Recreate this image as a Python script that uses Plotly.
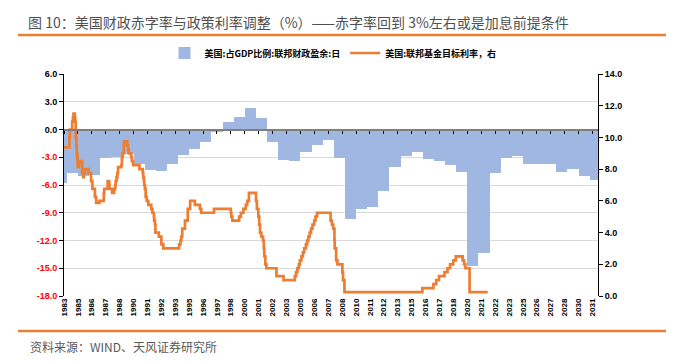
import plotly.graph_objects as go

# ---------------- data ----------------
fiscal_years = list(range(1983, 2032))
fiscal_balance = [
    -5.8, -4.7, -5.0, -4.9, -3.1, -3.0, -2.7, -3.7, -4.4, -4.5,   # 1983-1992
    -3.7, -2.8, -2.1, -1.3, -0.3, 0.8, 1.3, 2.3, 1.2, -1.4,       # 1993-2002
    -3.3, -3.4, -2.4, -1.7, -1.1, -3.1, -9.7, -8.6, -8.4, -6.7,   # 2003-2012
    -4.0, -2.9, -2.4, -3.2, -3.4, -3.8, -4.6, -14.8, -13.3, -4.7, # 2013-2022
    -3.1, -2.9, -3.7, -3.7, -3.7, -4.6, -4.3, -5.0, -5.5,         # 2023-2031
]

fed_dates = [
    "1983-10-01", "1984-03-27", "1984-04-09", "1984-06-25", "1984-07-19", "1984-08-09", "1984-09-20",
    "1984-10-02", "1984-10-18", "1984-11-08", "1984-11-23", "1984-12-07", "1984-12-18", "1984-12-24",
    "1985-01-30", "1985-02-13", "1985-04-02", "1985-05-20", "1985-06-25", "1985-07-11", "1985-08-21", "1985-12-18",
    "1986-03-07", "1986-04-21", "1986-07-11", "1986-08-21", "1986-12-04",
    "1987-04-30", "1987-05-14", "1987-09-04", "1987-10-22", "1987-11-04",
    "1988-01-28", "1988-03-30", "1988-05-09", "1988-05-25", "1988-06-22", "1988-07-19", "1988-08-09", "1988-11-22", "1988-12-15",
    "1989-01-05", "1989-02-14", "1989-02-24", "1989-06-06", "1989-07-07", "1989-07-27", "1989-10-18", "1989-11-06", "1989-12-20",
    "1990-07-13", "1990-10-29", "1990-11-14", "1990-12-07", "1990-12-19",
    "1991-01-09", "1991-02-01", "1991-03-08", "1991-04-30", "1991-08-06", "1991-09-13", "1991-10-31", "1991-11-06", "1991-12-06", "1991-12-20",
    "1992-04-09", "1992-07-02", "1992-09-04",
    "1994-02-04", "1994-03-22", "1994-04-18", "1994-05-17", "1994-08-16", "1994-11-15",
    "1995-02-01", "1995-07-06", "1995-12-19", "1996-01-31", "1997-03-25",
    "1998-09-29", "1998-10-15", "1998-11-17", "1999-06-30", "1999-08-24", "1999-11-16",
    "2000-02-02", "2000-03-21", "2000-05-16",
    "2001-01-03", "2001-01-31", "2001-03-20", "2001-04-18", "2001-05-15", "2001-06-27", "2001-08-21", "2001-09-17", "2001-10-02", "2001-11-06", "2001-12-11",
    "2002-11-06", "2003-06-25",
    "2004-06-30", "2004-08-10", "2004-09-21", "2004-11-10", "2004-12-14",
    "2005-02-02", "2005-03-22", "2005-05-03", "2005-06-30", "2005-08-09", "2005-09-20", "2005-11-01", "2005-12-13",
    "2006-01-31", "2006-03-28", "2006-05-10", "2006-06-29",
    "2007-09-18", "2007-10-31", "2007-12-11",
    "2008-01-22", "2008-01-30", "2008-03-18", "2008-04-30", "2008-10-08", "2008-10-29", "2008-12-16",
    "2015-12-17", "2016-12-15", "2017-03-16", "2017-06-15", "2017-12-14", "2018-03-22", "2018-06-14", "2018-09-27", "2018-12-20",
    "2019-08-01", "2019-09-19", "2019-10-31", "2020-03-16", "2021-11-01",
]
fed_rate = [
    9.375, 10.0, 10.5, 11.0, 11.25, 11.5, 11.25,
    11.0, 10.0, 9.5, 9.0, 8.75, 8.5, 8.125,
    8.25, 8.5, 8.5, 7.75, 7.5, 7.75, 8.0, 7.75,
    7.25, 6.75, 6.25, 5.875, 6.0,
    6.5, 6.75, 7.25, 7.0, 6.75,
    6.5, 6.75, 7.0, 7.25, 7.5, 7.75, 8.125, 8.25, 8.75,
    9.0, 9.5, 9.75, 9.5, 9.25, 9.0, 8.75, 8.5, 8.25,
    8.0, 7.75, 7.5, 7.25, 7.0,
    6.75, 6.25, 6.0, 5.75, 5.5, 5.25, 5.0, 4.75, 4.5, 4.0,
    3.75, 3.25, 3.0,
    3.25, 3.5, 3.75, 4.25, 4.75, 5.5,
    6.0, 5.75, 5.5, 5.25, 5.5,
    5.25, 5.0, 4.75, 5.0, 5.25, 5.5,
    5.75, 6.0, 6.5,
    6.0, 5.5, 5.0, 4.5, 4.0, 3.75, 3.5, 3.0, 2.5, 2.0, 1.75,
    1.25, 1.0,
    1.25, 1.5, 1.75, 2.0, 2.25,
    2.5, 2.75, 3.0, 3.25, 3.5, 3.75, 4.0, 4.25,
    4.5, 4.75, 5.0, 5.25,
    4.75, 4.5, 4.25,
    3.5, 3.0, 2.25, 2.0, 1.5, 1.0, 0.25,
    0.5, 0.75, 1.0, 1.25, 1.5, 1.75, 2.0, 2.25, 2.5,
    2.25, 2.0, 1.75, 0.25, 0.25,
]
assert len(fed_dates) == len(fed_rate)

left_ticks = [-18, -15, -12, -9, -6, -3, 0, 3, 6]
right_ticks = [0, 2, 4, 6, 8, 10, 12, 14]

series_names = ["美国:占GDP比例:联邦财政盈余:日", "美国:联邦基金目标利率，右"]
title_text = "图 10：美国财政赤字率与政策利率调整（%）——赤字率回到 3%左右或是加息前提条件"
source_text = "资料来源：WIND、天风证券研究所"

# ---------------- layout constants ----------------
W, H = 690, 362
L, R, T, B = 64, 598, 74, 296
x_start, x_end = "1983-10-01", "2031-10-01"
ORANGE = "#ED7D31"
BAR = "#A0B8E1"
FONT = "Liberation Sans, Arial, sans-serif"
CJK = "Noto Sans CJK SC, sans-serif"


def px_x(p):
    return (p - L) / (R - L)


def px_y(p):
    return (B - p) / (B - T)


bar_x = [f"{y}-07-02" for y in fiscal_years]
year_ms = 365 * 24 * 3600 * 1000

fig = go.Figure()
fig.add_trace(go.Bar(
    x=bar_x, y=fiscal_balance, width=[year_ms] * len(bar_x),
    marker=dict(color=BAR, line=dict(width=0)),
    name=series_names[0], xaxis="x", yaxis="y",
))
fig.add_trace(go.Scatter(
    x=fed_dates, y=fed_rate, mode="lines", line=dict(color=ORANGE, width=2.7, shape="hv"),
    name=series_names[1], xaxis="x2", yaxis="y2",
))

left_text = [
    (f"<span style='color:#FF0000'>{v:.1f}</span>" if v < 0 else f"{v:.1f}") for v in left_ticks
]

tickfont = dict(family=FONT, size=9, color="#000000", weight="bold")

fig.update_layout(
    width=W, height=H,
    margin=dict(l=L, r=W - R, t=T, b=H - B),
    paper_bgcolor="white", plot_bgcolor="white",
    bargap=0,
    showlegend=True,
    legend=dict(
        orientation="h", x=px_x(333), xanchor="center", y=px_y(53), yanchor="middle",
        font=dict(family=CJK, size=9, color="#000000", weight="bold"),
        itemwidth=30, tracegroupgap=0, bgcolor="rgba(0,0,0,0)",
    ),
    xaxis=dict(
        type="date", range=[x_start, x_end], tick0=x_start, dtick="M15", tickformat="%Y",
        tickangle=-90, ticks="", showgrid=False, showline=False, zeroline=False,
        tickfont=dict(family=FONT, size=8, color="#000000", weight="bold"),
    ),
    xaxis2=dict(
        type="date", range=[x_start, x_end], tick0=x_start, dtick="M15",
        overlaying="x", anchor="free", position=(0 - (-18)) / 24, side="bottom",
        showticklabels=False, ticks="outside", ticklen=3, tickwidth=1, tickcolor="#000000",
        showgrid=False, zeroline=False, showline=True, linecolor="#7F7F7F", linewidth=2,
    ),
    yaxis=dict(
        range=[-18, 6], tickvals=left_ticks, ticktext=left_text,
        showgrid=True, gridcolor="#D9D9D9", gridwidth=1, zeroline=False,
        showline=True, linecolor="#000000", linewidth=1,
        ticks="outside", ticklen=4, tickcolor="#000000", tickfont=tickfont,
    ),
    yaxis2=dict(
        range=[0, 14], tickvals=right_ticks, tickformat=".1f",
        overlaying="y", side="right", anchor="x2",
        showgrid=False, zeroline=False,
        showline=True, linecolor="#000000", linewidth=1,
        ticks="outside", ticklen=4, tickcolor="#000000", tickfont=tickfont,
    ),
    title=dict(
        text=title_text, xref="container", yref="container",
        x=28 / W, xanchor="left", y=1 - 23 / H, yanchor="middle",
        font=dict(family=CJK, size=14, color="#505050"),
    ),
)

# orange rules above and below the chart
for yy in (35, 331):
    fig.add_shape(type="line", xref="paper", yref="paper",
                  x0=px_x(18), x1=px_x(666), y0=px_y(yy), y1=px_y(yy),
                  line=dict(color=ORANGE, width=2.5))

fig.add_annotation(
    text=source_text, xref="paper", yref="paper", x=px_x(28), y=px_y(346),
    xanchor="left", yanchor="middle", showarrow=False,
    font=dict(family=CJK, size=12, color="#595959"),
)

fig.write_html(
    "out.html",
    config={"displayModeBar": False},
    post_script="document.body.style.margin='0';document.body.style.padding='0';",
)
